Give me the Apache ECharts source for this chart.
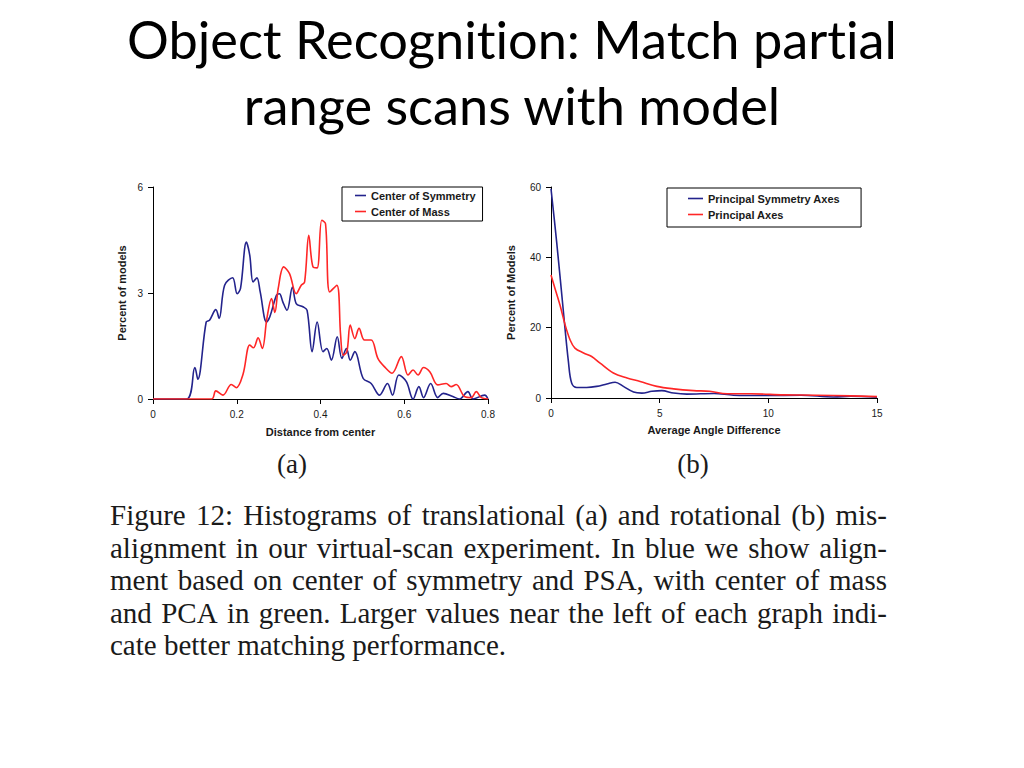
<!DOCTYPE html>
<html><head><meta charset="utf-8">
<script src="https://cdn.jsdelivr.net/npm/echarts@6/dist/echarts.min.js"></script>
<style>html,body{margin:0;padding:0;background:#fff}#c{width:1024px;height:768px}#c text{font-variant-ligatures:none;font-feature-settings:"liga" 0}</style>
</head><body><div id="c"></div>
<script>
// ---- text ----
const titleLines = ["Object Recognition: Match partial", "range scans with model"];
const captionLines = [
  "Figure 12:  Histograms of translational (a) and rotational (b) mis-",
  "alignment in our virtual-scan experiment.  In blue we show align-",
  "ment based on center of symmetry and PSA, with center of mass",
  "and PCA in green.  Larger values near the left of each graph indi-",
  "cate better matching performance."
];
const subLabels = ["(a)", "(b)"];

// ---- chart (a): Distance from center vs Percent of models ----
const aXTicks = [0, 0.2, 0.4, 0.6, 0.8];
const aYTicks = [0, 3, 6];
const centerOfSymmetry = [[0,0],[0.08,0],[0.1,0.89],[0.107,0.56],[0.127,2.18],[0.135,2.23],[0.15,2.53],[0.158,2.28],[0.171,3.22],[0.19,3.43],[0.201,2.98],[0.209,3.13],[0.223,4.44],[0.231,4.07],[0.239,3.31],[0.248,3.43],[0.256,3.03],[0.271,2.18],[0.279,2.33],[0.295,2.94],[0.302,2.98],[0.31,2.75],[0.32,2.51],[0.333,3.17],[0.342,2.70],[0.358,2.61],[0.368,2.51],[0.38,1.34],[0.392,2.18],[0.406,1.34],[0.415,1.43],[0.426,1.10],[0.44,1.76],[0.451,1.15],[0.462,1.43],[0.471,1.10],[0.482,1.34],[0.502,0.58],[0.521,0.44],[0.541,0.11],[0.56,0.44],[0.572,0.11],[0.587,0.68],[0.605,0.49],[0.621,0],[0.635,0.35],[0.646,0.04],[0.663,0.44],[0.68,0.04],[0.693,0.16],[0.716,0.07],[0.732,0],[0.752,0.21],[0.764,0],[0.792,0.11],[0.8,0]];
const centerOfMass = [[0,0],[0.14,0],[0.15,0.23],[0.167,0.11],[0.187,0.41],[0.199,0.32],[0.215,0.70],[0.231,1.53],[0.24,1.45],[0.251,1.73],[0.261,1.43],[0.272,2.28],[0.283,2.84],[0.291,2.45],[0.299,3.13],[0.312,3.74],[0.326,3.55],[0.342,2.98],[0.354,3.22],[0.362,3.31],[0.372,4.63],[0.382,3.74],[0.392,3.71],[0.403,5.06],[0.412,4.96],[0.422,3.03],[0.439,3.22],[0.448,1.81],[0.454,1.24],[0.463,1.34],[0.471,2.09],[0.482,1.71],[0.492,2.0],[0.505,1.67],[0.521,1.67],[0.537,1.15],[0.553,0.91],[0.571,0.73],[0.593,1.20],[0.609,0.68],[0.621,0.82],[0.633,0.68],[0.646,0.89],[0.661,0.77],[0.68,0.40],[0.7,0.44],[0.712,0.35],[0.724,0.41],[0.744,0.07],[0.76,0.04],[0.772,0.21],[0.784,0.04],[0.8,0]];

// ---- chart (b): Average Angle Difference vs Percent of Models ----
const bXTicks = [0, 5, 10, 15];
const bYTicks = [0, 20, 40, 60];
const principalSymmetryAxes = [[0,59.5],[0.26,44.4],[0.57,24.6],[0.8,10.4],[0.95,4.25],[1.18,3.0],[1.64,3.0],[2.1,3.3],[2.57,4.0],[2.95,4.5],[3.33,3.3],[3.8,1.7],[4.18,1.4],[4.64,1.9],[5.1,2.1],[5.64,1.4],[6.25,1.1],[7.5,1.3],[8.4,0.8],[9.9,0.7],[11.5,0.8],[13,0.3],[13.8,0.5],[15,0.2]];
const principalAxes = [[0,35],[0.18,31.2],[0.41,26.5],[0.65,20.8],[0.88,16.5],[1.1,14.2],[1.5,12.8],[1.87,11.8],[2.26,9.9],[2.87,7.1],[3.5,5.7],[4.1,4.7],[4.87,3.3],[5.64,2.6],[6.56,2.1],[7.3,1.9],[8.1,1.2],[9.2,1.2],[10.7,0.9],[12.2,0.8],[13.8,0.6],[15,0.4]];

// ---- styling ----
const BLUE = '#23238c', RED = '#ff2626', INK = '#1a1a1a';
const SANS = '"Liberation Sans", Arial, sans-serif';
const SERIF = '"Liberation Serif", "Times New Roman", serif';
const TITLE_FONT = 'Lato, "Open Sans", sans-serif';

const mctx = document.createElement('canvas').getContext('2d');
function measure(text, size, family, weight) {
  mctx.font = (weight || 'normal') + ' ' + size + 'px ' + family;
  return mctx.measureText(text).width;
}

const graphics = [];
// title, fitted to the reference width of line 1
const titleSize = Math.min(64, 62 * 772 / measure(titleLines[0], 62, TITLE_FONT));
[38, 104].forEach((y, i) => graphics.push({
  type: 'text', x: 512, y: y,
  style: { text: titleLines[i], fontFamily: TITLE_FONT, fontSize: titleSize, fill: '#000', align: 'center', verticalAlign: 'middle' }
}));

// sub labels
[[292, 464], [693, 464]].forEach((p, i) => graphics.push({
  type: 'text', x: p[0], y: p[1],
  style: { text: subLabels[i], fontFamily: SERIF, fontSize: 27, fill: INK, align: 'center', verticalAlign: 'middle' }
}));

// caption, justified between x=110 and x=887
const capLeft = 110, capRight = 887, capSize = 29;
const capY = [515, 547.5, 580, 612.5, 645];
captionLines.forEach((line, li) => {
  const words = line.split(/\s+/);
  const widths = words.map(w => measure(w, capSize, SERIF));
  const total = widths.reduce((a, b) => a + b, 0);
  const last = li === captionLines.length - 1;
  const gap = last ? measure(' ', capSize, SERIF) : (capRight - capLeft - total) / (words.length - 1);
  let x = capLeft;
  words.forEach((w, wi) => {
    graphics.push({ type: 'text', x: x, y: capY[li],
      style: { text: w, fontFamily: SERIF, fontSize: capSize, fill: INK, align: 'left', verticalAlign: 'middle' } });
    x += widths[wi] + gap;
  });
});

function axisCommon(extra) {
  return Object.assign({
    type: 'value',
    axisLine: { show: true, onZero: false, lineStyle: { color: '#000', width: 1 } },
    axisTick: { show: true, inside: false, length: 5, lineStyle: { color: '#000' } },
    splitLine: { show: false },
    axisLabel: { color: INK, fontFamily: SANS, fontSize: 10, margin: 10 },
    nameLocation: 'middle',
    nameTextStyle: { color: INK, fontFamily: SANS, fontSize: 11, fontWeight: 'bold' }
  }, extra);
}

function lineSeries(name, data, color, axisIdx) {
  return { type: 'line', name: name, data: data, xAxisIndex: axisIdx, yAxisIndex: axisIdx,
    symbol: 'none', smooth: 0.35, lineStyle: { color: color, width: 1.6 }, itemStyle: { color: color },
    animation: false, clip: true };
}

const legendText = { color: INK, fontFamily: SANS, fontSize: 11, fontWeight: 'bold' };

const option = {
  backgroundColor: '#fff',
  animation: false,
  grid: [
    { left: 153, top: 187, width: 335, height: 212 },
    { left: 551, top: 187, width: 326, height: 211 }
  ],
  xAxis: [
    axisCommon({ gridIndex: 0, min: aXTicks[0], max: aXTicks[aXTicks.length - 1], interval: aXTicks[1] - aXTicks[0], name: 'Distance from center', nameGap: 27 }),
    axisCommon({ gridIndex: 1, min: bXTicks[0], max: bXTicks[bXTicks.length - 1], interval: bXTicks[1] - bXTicks[0], name: 'Average Angle Difference', nameGap: 26 })
  ],
  yAxis: [
    axisCommon({ gridIndex: 0, min: aYTicks[0], max: aYTicks[aYTicks.length - 1], interval: aYTicks[1] - aYTicks[0], name: 'Percent of models', nameGap: 26 }),
    axisCommon({ gridIndex: 1, min: bYTicks[0], max: bYTicks[bYTicks.length - 1], interval: bYTicks[1] - bYTicks[0], name: 'Percent of Models', nameGap: 35 })
  ],
  legend: [
    { data: ['Center of Symmetry', 'Center of Mass'], orient: 'vertical', left: 342, top: 187,
      icon: 'rect', padding: [3, 7, 4, 13], itemWidth: 11, itemHeight: 1.6, itemGap: 5,
      borderColor: '#000', borderWidth: 1, backgroundColor: '#fff', textStyle: legendText, selectedMode: false },
    { data: ['Principal Symmetry Axes', 'Principal Axes'], orient: 'vertical', left: 667, top: 188,
      icon: 'rect', padding: [5, 21, 7, 21], itemWidth: 15, itemHeight: 1.6, itemGap: 5,
      borderColor: '#000', borderWidth: 1, backgroundColor: '#fff', textStyle: legendText, selectedMode: false }
  ],
  series: [
    lineSeries('Center of Symmetry', centerOfSymmetry, BLUE, 0),
    lineSeries('Center of Mass', centerOfMass, RED, 0),
    lineSeries('Principal Symmetry Axes', principalSymmetryAxes, BLUE, 1),
    lineSeries('Principal Axes', principalAxes, RED, 1)
  ],
  graphic: graphics
};

const chart = echarts.init(document.getElementById('c'), null, { renderer: 'svg' });
chart.setOption(option);
</script>
</body></html>
